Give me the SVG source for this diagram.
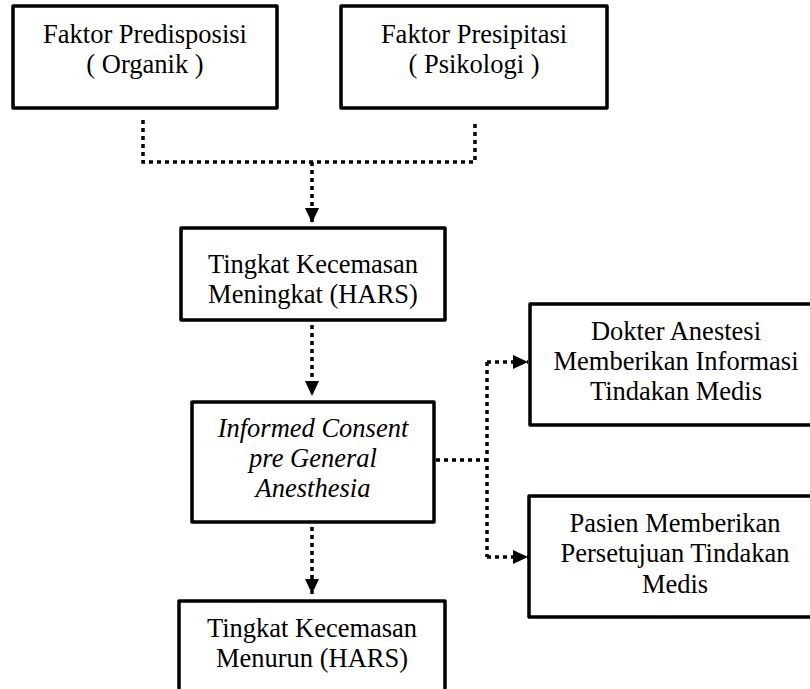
<svg xmlns="http://www.w3.org/2000/svg" width="810" height="689" viewBox="0 0 810 689">
<style>
.box{fill:#fff;stroke:#000;stroke-width:3.5;stroke-linejoin:round}
.dot{fill:none;stroke:#000;stroke-width:3.5;stroke-dasharray:4 4}
</style>
<defs>
<marker id="ah" markerWidth="15" markerHeight="14" refX="15" refY="7" orient="auto" markerUnits="userSpaceOnUse">
<path d="M0,0 L15,7 L0,14 z" fill="#000"/>
</marker>
</defs>
<rect width="810" height="689" fill="#fff"/>
<g id="connectors">
<path class="dot" d="M143,120 V162 H475 V120"/>
<path class="dot" d="M312,162 V223" marker-end="url(#ah)"/>
<path class="dot" d="M312,325 V396" marker-end="url(#ah)"/>
<path class="dot" d="M436,460 H487"/>
<path class="dot" d="M487,362 V557"/>
<path class="dot" d="M487,362 H528" marker-end="url(#ah)"/>
<path class="dot" d="M487,557 H528" marker-end="url(#ah)"/>
<path class="dot" d="M312,527 V594" marker-end="url(#ah)"/>
</g>
<g id="node-predisposisi">
<rect class="box" x="13" y="6" width="264" height="102"/>
<text x="145" y="43" font-family="Liberation Serif" font-size="26.5" text-anchor="middle">Faktor Predisposisi</text>
<text x="145" y="73" font-family="Liberation Serif" font-size="26.5" text-anchor="middle">( Organik )</text>
</g>
<g id="node-presipitasi">
<rect class="box" x="341" y="6" width="266" height="102"/>
<text x="474" y="43" font-family="Liberation Serif" font-size="26.5" text-anchor="middle">Faktor Presipitasi</text>
<text x="474" y="73" font-family="Liberation Serif" font-size="26.5" text-anchor="middle">( Psikologi )</text>
</g>
<g id="node-meningkat">
<rect class="box" x="181" y="228" width="264" height="92"/>
<text x="313" y="273" font-family="Liberation Serif" font-size="26.5" text-anchor="middle">Tingkat Kecemasan</text>
<text x="313" y="303" font-family="Liberation Serif" font-size="26.5" text-anchor="middle">Meningkat (HARS)</text>
</g>
<g id="node-informed">
<rect class="box" x="192" y="402" width="242" height="120"/>
<text x="313" y="437" font-family="Liberation Serif" font-size="26.5" font-style="italic" text-anchor="middle">Informed Consent</text>
<text x="313" y="467" font-family="Liberation Serif" font-size="26.5" font-style="italic" text-anchor="middle">pre General</text>
<text x="313" y="497" font-family="Liberation Serif" font-size="26.5" font-style="italic" text-anchor="middle">Anesthesia</text>
</g>
<g id="node-dokter">
<rect class="box" x="530" y="304" width="292" height="121"/>
<text x="676" y="340" font-family="Liberation Serif" font-size="26.5" text-anchor="middle">Dokter Anestesi</text>
<text x="676" y="370" font-family="Liberation Serif" font-size="26.5" text-anchor="middle">Memberikan Informasi</text>
<text x="676" y="400" font-family="Liberation Serif" font-size="26.5" text-anchor="middle">Tindakan Medis</text>
</g>
<g id="node-pasien">
<rect class="box" x="529" y="496" width="292" height="121"/>
<text x="675" y="532" font-family="Liberation Serif" font-size="26.5" text-anchor="middle">Pasien Memberikan</text>
<text x="675" y="562" font-family="Liberation Serif" font-size="26.5" text-anchor="middle">Persetujuan Tindakan</text>
<text x="675" y="593" font-family="Liberation Serif" font-size="26.5" text-anchor="middle">Medis</text>
</g>
<g id="node-menurun">
<rect class="box" x="179" y="601" width="266" height="110"/>
<text x="312" y="637" font-family="Liberation Serif" font-size="26.5" text-anchor="middle">Tingkat Kecemasan</text>
<text x="312" y="667" font-family="Liberation Serif" font-size="26.5" text-anchor="middle">Menurun (HARS)</text>
</g>
</svg>
